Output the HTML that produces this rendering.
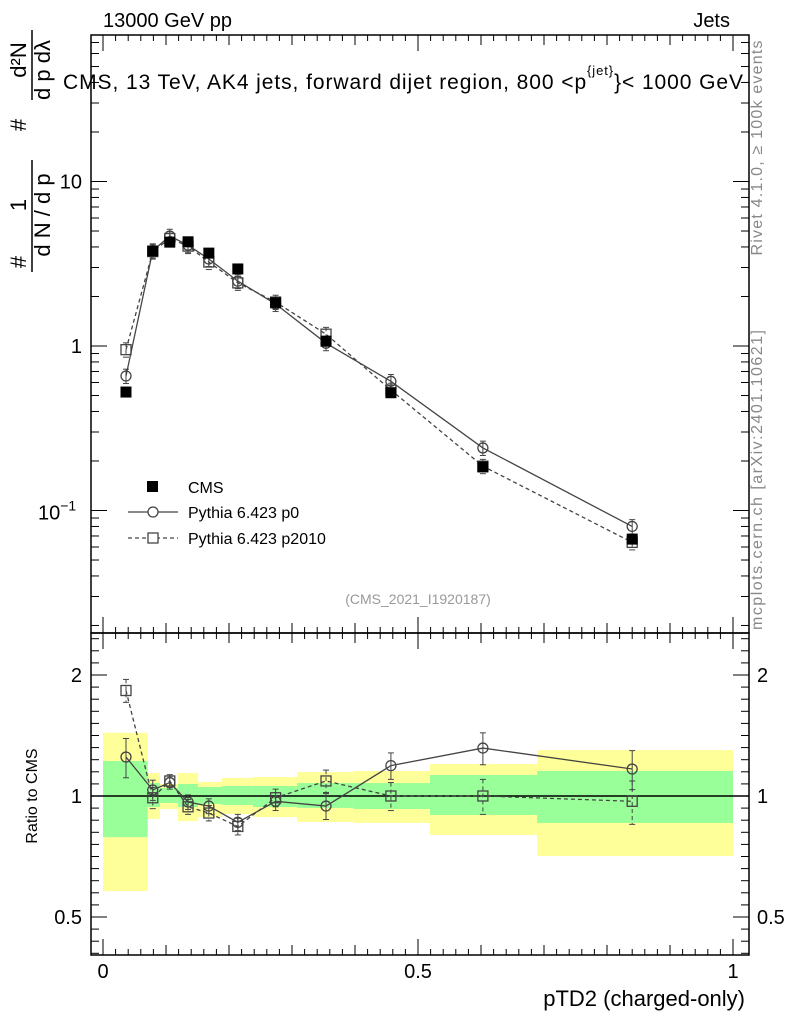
<!DOCTYPE html>
<html><head><meta charset="utf-8"><style>
body{margin:0;background:#fff}
svg{display:block;font-family:"Liberation Sans",sans-serif}
</style></head><body>
<svg id="c" width="786" height="1024"></svg>
<script>
const binEdges=[0,0.071,0.0905,0.119,0.151,0.189,0.238,0.308,0.398,0.519,0.689,1.0];
const xPts=[0.0365,0.079,0.106,0.135,0.168,0.214,0.274,0.354,0.457,0.603,0.840];
const cmsVals=[0.525,3.78,4.28,4.3,3.67,2.94,1.83,1.07,0.52,0.184,0.067];
const p0Vals=[0.657,3.8,4.66,4.1,3.38,2.48,1.8,1.04,0.61,0.24,0.08];
const p2010Vals=[0.95,3.75,4.5,4.05,3.24,2.42,1.85,1.18,0.54,0.186,0.064];
const p0Ratio=[1.25,1.035,1.08,0.966,0.944,0.86,0.97,0.944,1.19,1.316,1.167];
const p2010Ratio=[1.83,0.99,1.09,0.94,0.907,0.84,0.99,1.09,1.0,1.0,0.97];
const p0RatioErr=[0.14,0.06,0.04,0.04,0.04,0.04,0.05,0.07,0.09,0.12,0.13];
const p2010RatioErr=[0.12,0.06,0.04,0.04,0.04,0.04,0.05,0.07,0.08,0.10,0.12];
const bandYelHi=[1.437,1.141,1.071,1.141,1.084,1.109,1.115,1.147,1.154,1.201,1.301];
const bandYelLo=[0.58,0.877,0.928,0.866,0.886,0.902,0.886,0.862,0.857,0.8,0.709];
const bandGrnHi=[1.222,1.077,1.047,1.071,1.053,1.059,1.059,1.077,1.077,1.128,1.154];
const bandGrnLo=[0.79,0.939,0.961,0.939,0.955,0.95,0.939,0.934,0.928,0.897,0.857];
const xTicks=[0,0.5,1];const xTickLabels=["0","0.5","1"];
const ratioTicks=[0.5,1,2];const ratioTickLabels=["0.5","1","2"];

const NS="http://www.w3.org/2000/svg";const svg=document.getElementById('c');
function el(t,a,p){const e=document.createElementNS(NS,t);for(const k in a)e.setAttribute(k,a[k]);(p||svg).appendChild(e);return e;}
const L=91,R=749,T=35,M=633,B=955;
const X=v=>103+v*630;
const Y=v=>346-Math.log10(v)*164.5;
const YR=v=>796-Math.log2(v)*121;
for(let i=0;i<binEdges.length-1;i++){
 let r=el('rect',{x:X(binEdges[i]),y:YR(bandYelHi[i]),width:X(binEdges[i+1])-X(binEdges[i]),height:YR(bandYelLo[i])-YR(bandYelHi[i]),fill:'#ffff99'});
 
 r=el('rect',{x:X(binEdges[i]),y:YR(bandGrnHi[i]),width:X(binEdges[i+1])-X(binEdges[i]),height:YR(bandGrnLo[i])-YR(bandGrnHi[i]),fill:'#99ff99'});
 
}
el('line',{x1:L,x2:R,y1:YR(1),y2:YR(1),stroke:'#000','stroke-width':1.5});
el('rect',{x:L,y:T,width:R-L,height:M-T,fill:'none',stroke:'#000','stroke-width':1.5});
el('rect',{x:L,y:M,width:R-L,height:B-M,fill:'none',stroke:'#000','stroke-width':1.5});
for(let k=0;k<=50;k++){const v=k*0.02,x=X(v);const len=k%25==0?16:(k%5==0?10:6);
 el('line',{x1:x,x2:x,y1:B,y2:B-len,stroke:'#000'});el('line',{x1:x,x2:x,y1:M,y2:M-len,stroke:'#000'});
 el('line',{x1:x,x2:x,y1:M,y2:M+len,stroke:'#000'});el('line',{x1:x,x2:x,y1:T,y2:T+len,stroke:'#000'});}
xTicks.forEach((v,i)=>{const t=el('text',{x:X(v),y:978,'font-size':20,'text-anchor':'middle'});t.textContent=xTickLabels[i];
 });
for(let d=-2;d<=1;d++)for(let m=1;m<10;m++){const v=m*Math.pow(10,d),y=Y(v);if(y<T||y>M)continue;const len=m==1?16:8;
 el('line',{x1:L,x2:L+len,y1:y,y2:y,stroke:'#000'});el('line',{x1:R,x2:R-len,y1:y,y2:y,stroke:'#000'});}
[["10",10],["1",1]].forEach(([s,v])=>{const t=el('text',{x:82,y:Y(v)+7,'font-size':20,'text-anchor':'end'});t.textContent=s;
 });
{const t=el('text',{x:38,y:Y(0.1)+9,'font-size':20});t.innerHTML='10<tspan dy="-9" font-size="14">−1</tspan>';
 }
for(let k=-13;k<=13;k++){const v=Math.pow(2,k/10),y=YR(v);if(y<M||y>B)continue;const len=k%10==0?16:8;
 el('line',{x1:L,x2:L+len,y1:y,y2:y,stroke:'#000'});el('line',{x1:R,x2:R-len,y1:y,y2:y,stroke:'#000'});}
ratioTicks.forEach((v,i)=>{let t=el('text',{x:82,y:YR(v)+7,'font-size':20,'text-anchor':'end'});t.textContent=ratioTickLabels[i];
 
 t=el('text',{x:757,y:YR(v)+7,'font-size':20});t.textContent=ratioTickLabels[i];
 });
function series(xs,ys,yf,err,marker,dash,name){
 let pts=xs.map((x,i)=>X(x)+','+yf(ys[i])).join(' ');
 const pl=el('polyline',{points:pts,fill:'none',stroke:'#444','stroke-width':1.3,'stroke-dasharray':dash});
 
 xs.forEach((x,i)=>{const cx=X(x),cy=yf(ys[i]);
  if(err){const y1=yf(ys[i]+err[i]),y2=yf(Math.max(ys[i]-err[i],0.01));
   el('line',{x1:cx,x2:cx,y1:y1,y2:y2,stroke:'#444','stroke-dasharray':dash});
   el('line',{x1:cx-3,x2:cx+3,y1:y1,y2:y1,stroke:'#444'});el('line',{x1:cx-3,x2:cx+3,y1:y2,y2:y2,stroke:'#444'});}
  let m;
  if(marker=='o')m=el('circle',{cx:cx,cy:cy,r:5,fill:'none',stroke:'#444','stroke-width':1.3});
  else m=el('rect',{x:cx-5,y:cy-5,width:10,height:10,fill:'none',stroke:'#444','stroke-width':1.3});
  });
}
series(xPts,p2010Vals,Y,p2010Vals.map(v=>v*0.1),'s','4,3','p2010');
series(xPts,p0Vals,Y,p0Vals.map(v=>v*0.1),'o','none','p0');
xPts.forEach((x,i)=>{const m=el('rect',{x:X(x)-5.5,y:Y(cmsVals[i])-5.5,width:11,height:11,fill:'#000'});
 });
series(xPts,p2010Ratio,YR,p2010RatioErr,'s','4,3','p2010-ratio');
series(xPts,p0Ratio,YR,p0RatioErr,'o','none','p0-ratio');
el('rect',{x:147,y:481,width:11,height:11,fill:'#000'});
el('line',{x1:128,x2:178,y1:512,y2:512,stroke:'#444','stroke-width':1.3});el('circle',{cx:153,cy:512,r:5,fill:'#fff',stroke:'#444','stroke-width':1.3});
el('line',{x1:128,x2:178,y1:538,y2:538,stroke:'#444','stroke-width':1.3,'stroke-dasharray':'4,3'});el('rect',{x:148,y:533,width:10,height:10,fill:'#fff',stroke:'#444','stroke-width':1.3});
[["CMS",493],["Pythia 6.423 p0",518],["Pythia 6.423 p2010",544]].forEach(([s,y])=>{const t=el('text',{x:188,y:y,'font-size':16});t.textContent=s;
 });
function txt(s,a,name){const t=el('text',a);t.textContent=s;return t;}
txt("13000 GeV pp",{x:103,y:27,'font-size':20},'header-left');
txt("Jets",{x:730,y:27,'font-size':20,'text-anchor':'end'},'header-right');
{const t=el('text',{x:63,y:89,'font-size':21,textLength:680,lengthAdjust:'spacing'});t.innerHTML='CMS, 13 TeV, AK4 jets, forward dijet region, 800 &lt;p<tspan dy="-14" font-size="13">{jet}</tspan><tspan dy="14">}&lt; 1000 GeV</tspan>';
 }
txt("(CMS_2021_I1920187)",{x:418,y:604,'font-size':14,fill:'#999','text-anchor':'middle'},'analysis-id');
txt("pTD2 (charged-only)",{x:745,y:1006,'font-size':22,'text-anchor':'end'},'x-axis-title');
txt("Ratio to CMS",{x:0,y:0,'font-size':16,'text-anchor':'middle',transform:'translate(37,796) rotate(-90)'},'ratio-axis-title');
// y-axis title as stacked fractions
const g=el('g',{});
function rt(s,x,y,fs){const t=el('text',{x:0,y:0,'font-size':fs,'text-anchor':'middle',transform:`translate(${x},${y}) rotate(-90)`},g);t.textContent=s;}
rt('#',26,262,22);rt('1',26,205,22);rt('d N / d p',50,215,22);
el('line',{x1:32,x2:32,y1:160,y2:272,stroke:'#000','stroke-width':1.5},g);
rt('#',26,125,22);rt('d²N',26,60,22);rt('d p  dλ',50,70,22);
el('line',{x1:32,x2:32,y1:30,y2:100,stroke:'#000','stroke-width':1.5},g);
txt("Rivet 4.1.0, ≥ 100k events",{x:0,y:0,'font-size':16,fill:'#888','text-anchor':'middle',textLength:215,transform:'translate(762,148) rotate(-90)'},'rivet-label');
txt("mcplots.cern.ch [arXiv:2401.10621]",{x:0,y:0,'font-size':16,fill:'#888','text-anchor':'middle',textLength:300,transform:'translate(762,480) rotate(-90)'},'mcplots-label');
</script>
</body></html>
